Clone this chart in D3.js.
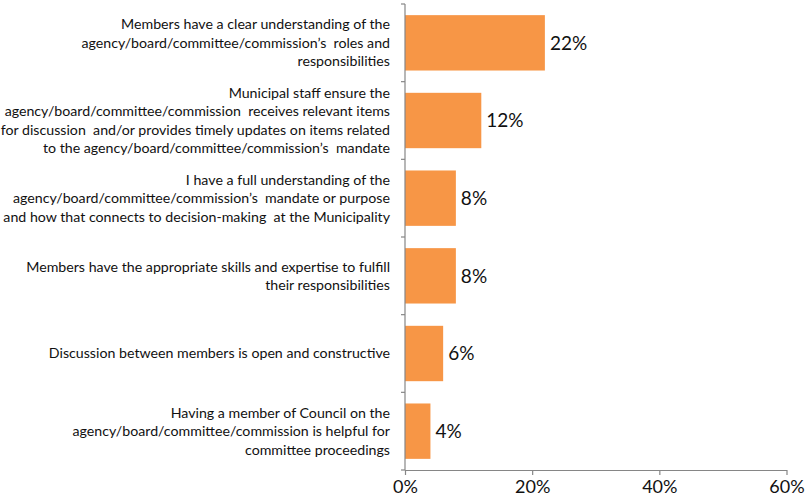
<!DOCTYPE html>
<html><head><meta charset="utf-8">
<script src="https://cdn.jsdelivr.net/npm/d3@7/dist/d3.min.js"></script>
<style>body{margin:0;background:#fff}svg{display:block}text{white-space:pre}</style>
</head><body><svg id="c" width="807" height="498"></svg>
<script>
const categories = [
  ["Members have a clear understanding of the", "agency/board/committee/commission’s  roles and", "responsibilities"],
  ["Municipal staff ensure the", "agency/board/committee/commission  receives relevant items", "for discussion  and/or provides timely updates on items related", "to the agency/board/committee/commission’s  mandate"],
  ["I have a full understanding of the", "agency/board/committee/commission’s  mandate or purpose", "and how that connects to decision-making  at the Municipality"],
  ["Members have the appropriate skills and expertise to fulfill", "their responsibilities"],
  ["Discussion between members is open and constructive"],
  ["Having a member of Council on the", "agency/board/committee/commission is helpful for", "committee proceedings"]
];
const values = [22, 12, 8, 8, 6, 4];
const tickValues = [0, 20, 40, 60];
const tickLabels = ["0%", "20%", "40%", "60%"];

(function() {
const svg = d3.select("#c");
const font = "Lato, 'Open Sans', sans-serif";
const mLeft = 405, mRight = 786.5, mTop = 4, mBottom = 470;
const x = d3.scaleLinear().domain([0, 60]).range([mLeft, mRight]);
const idx = d3.range(values.length);
const y = d3.scaleBand().domain(idx).range([mTop, mBottom]).paddingInner(0.287).paddingOuter(0.1435);

svg.selectAll("rect.bar").data(idx).join("rect")
  .attr("class", "bar")
  .attr("x", x(0)).attr("y", d => y(d))
  .attr("width", d => x(values[d]) - x(0))
  .attr("height", y.bandwidth())
  .attr("fill", "#F79646");

svg.selectAll("text.val").data(idx).join("text")
  .attr("class", "val")
  .attr("x", d => x(values[d]) + 5)
  .attr("y", d => y(d) + y.bandwidth() / 2)
  .attr("dy", "0.36em")
  .attr("font-family", font).attr("font-size", 19).attr("fill", "#111")
  .text(d => values[d] + "%");

const lh = 18.4;
const lbl = svg.selectAll("text.cat").data(idx).join("text")
  .attr("class", "cat")
  .attr("text-anchor", "end")
  .attr("font-family", font).attr("font-size", 14.2).attr("fill", "#111");
lbl.each(function(d) {
  const lines = categories[d];
  const cy = y(d) + y.bandwidth() / 2;
  const y0 = cy - (lines.length - 1) * lh / 2;
  d3.select(this).selectAll("tspan").data(lines).join("tspan")
    .attr("x", 390).attr("y", (l, i) => y0 + i * lh).attr("dy", "0.35em")
    .text(l => l);
});

const axisColor = "#868686";
svg.append("line").attr("x1", mLeft).attr("x2", mLeft).attr("y1", mTop).attr("y2", mBottom)
  .attr("stroke", axisColor).attr("stroke-width", 1.2);
const bounds = d3.range(values.length + 1).map(i => mTop + i * (mBottom - mTop) / values.length);
svg.selectAll("line.yt").data(bounds).join("line").attr("class", "yt")
  .attr("x1", mLeft - 4).attr("x2", mLeft).attr("y1", d => d).attr("y2", d => d)
  .attr("stroke", axisColor).attr("stroke-width", 1.2);

const xAxis = d3.axisBottom(x).tickValues(tickValues).tickSize(5).tickSizeOuter(0)
  .tickFormat((d, i) => tickLabels[i]);
const gx = svg.append("g").attr("transform", `translate(0,${mBottom})`).call(xAxis);
gx.select(".domain").attr("stroke", axisColor).attr("stroke-width", 1.2);
gx.selectAll(".tick line").attr("stroke", axisColor).attr("stroke-width", 1.2);
gx.selectAll(".tick text").attr("font-family", font).attr("font-size", 18).attr("fill", "#111")
  .attr("y", 0).attr("dy", "1.3em");
})();
</script></body></html>
